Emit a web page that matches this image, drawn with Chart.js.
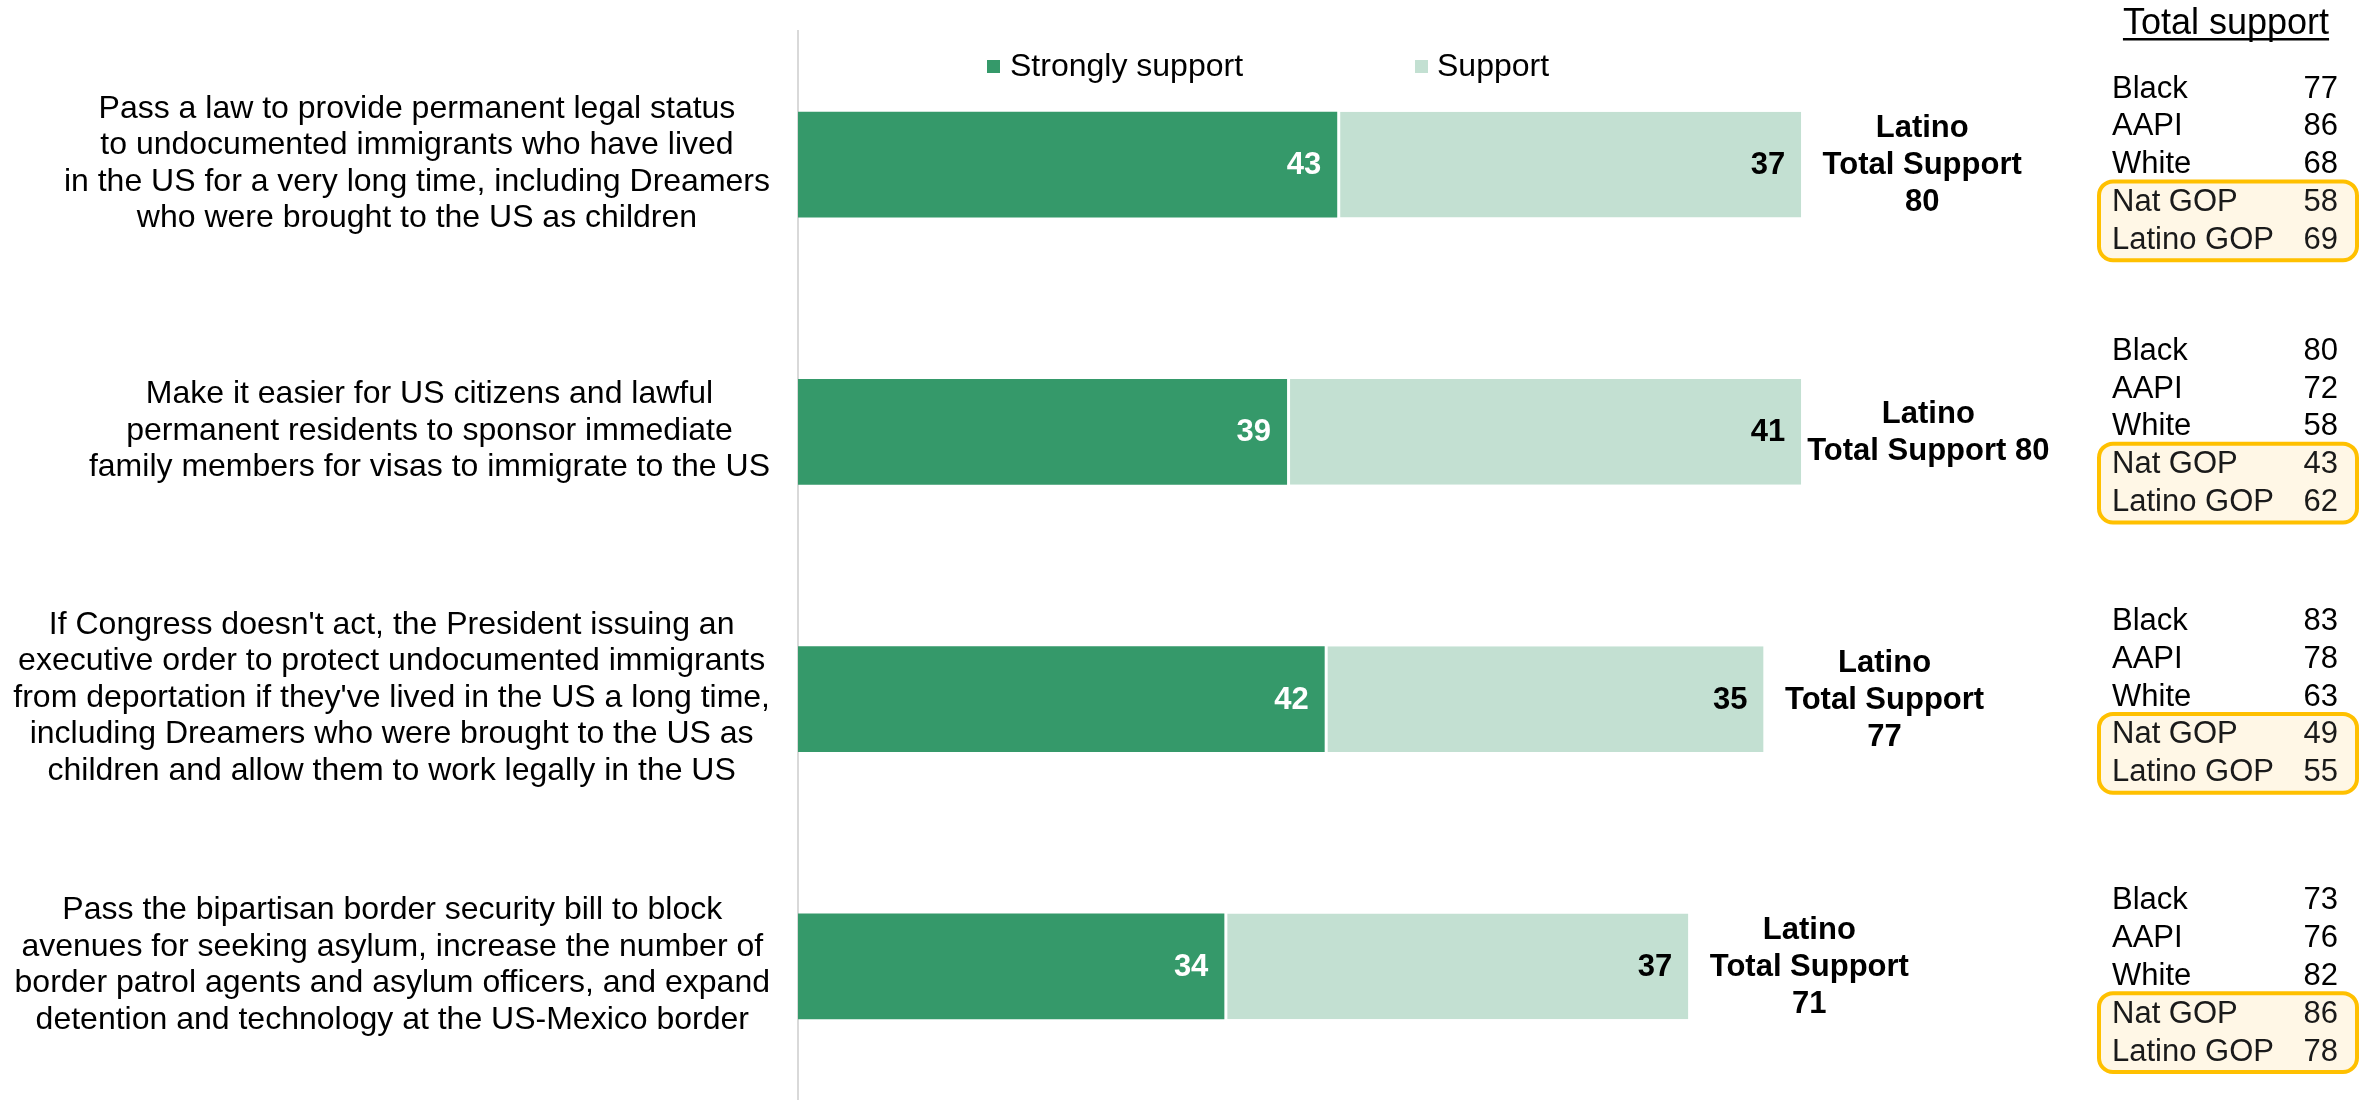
<!DOCTYPE html>
<html><head><meta charset="utf-8">
<script src="https://cdn.jsdelivr.net/npm/chart.js@4.4.1/dist/chart.umd.min.js"></script>
<style>html,body{margin:0;padding:0;background:#fff;} #wrap{width:2374px;height:1100px;position:relative;}</style>
</head><body><div id="wrap"><canvas id="c"></canvas></div>
<script>
// ---------- DATA ----------
const categories = [
  ['Pass a law to provide permanent legal status', 'to undocumented immigrants who have lived', 'in the US for a very long time, including Dreamers', 'who were brought to the US as children'],
  ['Make it easier for US citizens and lawful', 'permanent residents to sponsor immediate', 'family members for visas to immigrate to the US'],
  ["If Congress doesn't act, the President issuing an", 'executive order to protect undocumented immigrants', "from deportation if they've lived in the US a long time,", 'including Dreamers who were brought to the US as', 'children and allow them to work legally in the US'],
  ['Pass the bipartisan border security bill to block', 'avenues for seeking asylum, increase the number of', 'border patrol agents and asylum officers, and expand', 'detention and technology at the US-Mexico border']
];
const seriesNames = ['Strongly support', 'Support'];
const stronglySupport = [43, 39, 42, 34];
const support = [37, 41, 35, 37];
const latinoTotal = [80, 80, 77, 71];
const tableTitle = 'Total support';
const groupNames = ['Black', 'AAPI', 'White', 'Nat GOP', 'Latino GOP'];
const black = [77, 80, 83, 73];
const aapi = [86, 72, 78, 76];
const white = [68, 58, 63, 82];
const natGop = [58, 43, 49, 86];
const latinoGop = [69, 62, 55, 78];

const groupValues = [black, aapi, white, natGop, latinoGop];
const totalLabelLines = latinoTotal.map((v, i) => i === 1 ? ['Latino', 'Total Support ' + v] : ['Latino', 'Total Support', String(v)]);

// ---------- STYLE / LAYOUT ----------
const FONT = '"Liberation Sans", Arial, Helvetica, sans-serif';
const COL_STRONG = '#35996A';
const COL_SUPPORT = '#C3E0D2';
const TABLE_SHIFT = [-1, -6, -3, 9];   // vertical nudge of each side table (px)

const overlay = {
  id: 'overlay',
  afterDatasetsDraw(chart) {
    const ctx = chart.ctx;
    const ys = chart.scales.y;
    const ca = chart.chartArea;
    ctx.save();

    // value labels inside bars
    ctx.font = 'bold 31px ' + FONT;
    ctx.textAlign = 'right';
    ctx.textBaseline = 'middle';
    chart.data.datasets.forEach((ds, di) => {
      const meta = chart.getDatasetMeta(di);
      meta.data.forEach((bar, i) => {
        ctx.fillStyle = di === 0 ? '#ffffff' : '#000000';
        ctx.fillText(String(ds.data[i]), bar.x - 16, bar.y + 1);
      });
    });

    // Latino total labels at bar end
    const lastMeta = chart.getDatasetMeta(chart.data.datasets.length - 1);
    ctx.fillStyle = '#000';
    ctx.textAlign = 'center';
    lastMeta.data.forEach((bar, i) => {
      const lines = totalLabelLines[i];
      const w = Math.max(...lines.map(l => ctx.measureText(l).width));
      const cx = bar.x + Math.max(121, 6 + w / 2);
      lines.forEach((l, j) => {
        ctx.fillText(l, cx, bar.y + 1 + (j - (lines.length - 1) / 2) * 37);
      });
    });

    // category labels (left)
    ctx.font = '32px ' + FONT;
    ctx.textAlign = 'center';
    const rightEdge = ca.left - 28;
    categories.forEach((lines, i) => {
      const cy = ys.getPixelForValue(i);
      const w = Math.max(...lines.map(l => ctx.measureText(l).width));
      const cx = rightEdge - w / 2;
      lines.forEach((l, j) => {
        ctx.fillText(l, cx, cy - 1 + (j - (lines.length - 1) / 2) * 36.5);
      });
    });

    // legend
    ctx.font = '32px ' + FONT;
    ctx.textAlign = 'left';
    const legendItems = [[987, 1010], [1415, 1437]];
    chart.data.datasets.forEach((ds, di) => {
      const [sx, tx] = legendItems[di];
      ctx.fillStyle = ds.backgroundColor;
      ctx.fillRect(sx, 60, 13, 13);
      ctx.fillStyle = '#000';
      ctx.fillText(ds.label, tx, 67);
    });

    // table title
    ctx.font = '36px ' + FONT;
    ctx.textAlign = 'center';
    ctx.textBaseline = 'alphabetic';
    const tw = ctx.measureText(tableTitle).width;
    ctx.fillText(tableTitle, 2226, 34);
    ctx.fillRect(2226 - tw / 2, 38, tw, 2.5);

    // tables per statement
    ctx.font = '31px ' + FONT;
    ctx.textBaseline = 'middle';
    categories.forEach((_, i) => {
      const cy = ys.getPixelForValue(i) + TABLE_SHIFT[i];
      const rowY = k => cy + (k - 2) * 37.8;
      const top = rowY(3) - 20, bottom = rowY(4) + 21;
      ctx.beginPath();
      ctx.roundRect(2099, top, 258, bottom - top, 14);
      ctx.fillStyle = '#FFF7E6';
      ctx.fill();
      ctx.lineWidth = 4;
      ctx.strokeStyle = '#FFC000';
      ctx.stroke();
      groupNames.forEach((g, k) => {
        ctx.fillStyle = k >= 3 ? '#1a1a1a' : '#000';
        ctx.textAlign = 'left';
        ctx.fillText(g, 2112, rowY(k) + 1);
        ctx.textAlign = 'right';
        ctx.fillText(String(groupValues[k][i]), 2338, rowY(k) + 1);
      });
    });

    ctx.restore();
  }
};

new Chart(document.getElementById('c'), {
  type: 'bar',
  data: {
    labels: categories.map(c => c.join(' ')),
    datasets: [
      { label: seriesNames[0], data: stronglySupport, backgroundColor: COL_STRONG, borderWidth: 0 },
      { label: seriesNames[1], data: support, backgroundColor: COL_SUPPORT, borderColor: '#ffffff',
        borderWidth: { top: 0, right: 0, bottom: 0, left: 3 }, borderSkipped: false }
    ]
  },
  options: {
    indexAxis: 'y',
    responsive: true,
    maintainAspectRatio: false,
    devicePixelRatio: 1,
    animation: false,
    events: [],
    layout: { padding: { top: 31, right: 322, bottom: -3, left: 0 } },
    datasets: { bar: { barPercentage: 0.395, categoryPercentage: 1 } },
    scales: {
      x: { display: false, min: 0, max: 100, stacked: true },
      y: {
        stacked: true,
        ticks: { display: false },
        grid: { display: false, drawTicks: false },
        border: { display: true, color: '#D9D9D9', width: 2 },
        afterFit(scale) { scale.width = 798; }
      }
    },
    plugins: { legend: { display: false }, tooltip: { enabled: false } }
  },
  plugins: [overlay]
});
</script>
</body></html>
